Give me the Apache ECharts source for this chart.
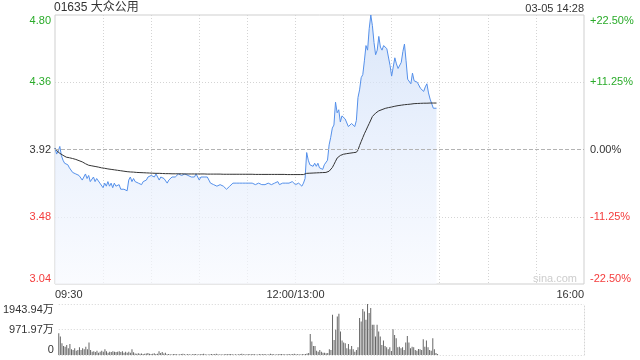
<!DOCTYPE html>
<html><head><meta charset="utf-8">
<script src="https://cdn.jsdelivr.net/npm/echarts@6/dist/echarts.min.js"></script>
<style>html,body{margin:0;padding:0;background:#fff}#c{width:640px;height:360px}</style>
</head><body><div id="c"></div>
<script>
// ---- data ----
const stockTitle = '01635 大众公用';
const stampText = '03-05 14:28';
const prevClose = 3.92;
const priceMin = 3.04, priceMax = 4.80, priceStep = 0.44;
const pctMin = -22.5, pctMax = 22.5, pctStep = 11.25;
const volMax = 1943.94; // 万
const sessionMinutes = 330;      // 09:30-12:00 + 13:00-16:00
const pmStart = 151;             // first afternoon minute index
const timeTickPos = [0, 150, 330];
const timeTickText = ['09:30', '12:00/13:00', '16:00'];

const priceAM = [
3.93,3.89,3.91,3.94,3.88,3.85,3.83,3.82,3.82,3.80,
3.80,3.77,3.78,3.76,3.77,3.75,3.76,3.72,3.74,3.76,
3.73,3.75,3.71,3.72,3.74,3.71,3.73,3.72,3.70,3.71,
3.67,3.70,3.68,3.71,3.68,3.70,3.67,3.70,3.68,3.67,
3.69,3.66,3.67,3.66,3.66,3.65,3.72,3.74,3.71,3.73,
3.71,3.72,3.70,3.71,3.69,3.71,3.70,3.72,3.74,3.73,
3.75,3.76,3.74,3.76,3.74,3.72,3.74,3.75,3.73,3.72,
3.70,3.72,3.73,3.74,3.74,3.74,3.75,3.76,3.75,3.75,
3.76,3.76,3.75,3.75,3.76,3.74,3.75,3.74,3.76,3.74,
3.72,3.74,3.74,3.74,3.74,3.74,3.72,3.70,3.70,3.69,
3.68,3.68,3.68,3.69,3.69,3.68,3.67,3.66,3.67,3.68,
3.68,3.70,3.70,3.70,3.70,3.70,3.70,3.70,3.70,3.70,
3.70,3.70,3.69,3.70,3.70,3.69,3.69,3.70,3.70,3.69,
3.69,3.69,3.70,3.70,3.70,3.69,3.70,3.70,3.69,3.71,
3.69,3.70,3.70,3.70,3.70,3.70,3.70,3.70,3.71,3.70,
3.69];
const pricePM = [
3.70,3.70,3.70,3.68,3.70,
3.73,3.90,3.85,3.82,
3.83,3.81,3.83,3.81,3.83,3.80,3.81,3.79,3.82,3.82,
3.85,3.95,4.00,4.06,4.08,4.23,4.16,4.18,4.10,4.14,
4.13,4.12,4.11,4.07,4.08,4.09,4.08,4.07,4.11,4.26,
4.31,4.39,4.41,4.50,4.60,4.57,4.71,4.80,4.73,4.62,
4.54,4.57,4.66,4.59,4.57,4.60,4.61,4.58,4.57,4.47,
4.40,4.46,4.52,4.48,4.45,4.45,4.49,4.56,4.61,4.50,
4.38,4.39,4.35,4.42,4.37,4.38,4.36,4.35,4.32,4.31,
4.30,4.33,4.35,4.29,4.25,4.22,4.19,4.19,4.19];

const avgAM = [
3.927,3.913,3.905,3.895,3.887,3.882,3.876,3.870,3.868,3.866,
3.864,3.861,3.858,3.855,3.851,3.847,3.843,3.839,3.835,3.827,
3.819,3.817,3.815,3.813,3.811,3.809,3.807,3.805,3.802,3.800,
3.798,3.797,3.795,3.793,3.792,3.790,3.789,3.787,3.786,3.784,
3.783,3.781,3.780,3.778,3.776,3.775,3.774,3.773,3.772,3.772,
3.771,3.770,3.770,3.769,3.769,3.768,3.768,3.767,3.767,3.766,
3.765,3.765,3.765,3.764,3.764,3.764,3.763,3.763,3.763,3.762,
3.762,3.762,3.762,3.761,3.761,3.761,3.761,3.761,3.761,3.761,
3.760,3.760,3.760,3.760,3.760,3.760,3.760,3.760,3.760,3.760,
3.760,3.760,3.760,3.760,3.760,3.759,3.759,3.759,3.759,3.759,
3.759,3.759,3.759,3.759,3.759,3.758,3.758,3.758,3.758,3.758,
3.758,3.758,3.758,3.758,3.758,3.758,3.758,3.758,3.758,3.758,
3.758,3.758,3.758,3.758,3.758,3.757,3.757,3.757,3.757,3.757,
3.757,3.757,3.757,3.757,3.757,3.757,3.757,3.757,3.757,3.757,
3.757,3.757,3.757,3.757,3.757,3.756,3.756,3.756,3.756,3.756,
3.756];
const avgPM = [
3.756,3.756,3.756,3.756,3.756,3.756,
3.764,
3.765,3.765,3.766,3.766,3.767,3.767,3.768,3.768,3.769,3.769,3.770,3.770,
3.771,
3.778,3.788,3.802,3.822,3.843,3.864,3.874,3.881,3.887,
3.889,3.891,3.893,3.895,3.896,3.898,3.899,3.900,3.902,
3.916,3.946,3.972,3.998,4.023,4.045,4.068,4.090,4.113,4.136,
4.147,4.158,4.169,
4.173,4.177,4.181,4.185,4.189,4.192,
4.194,4.196,4.198,4.200,4.203,4.205,
4.207,4.208,4.210,4.211,4.213,4.214,
4.215,4.216,4.217,4.218,4.220,4.221,
4.221,4.222,4.222,4.222,4.223,4.223,4.223,4.224,4.224,4.224,4.224,4.224,4.224];

const volAM = [
832,702,449,345,318,383,257,422,219,192,
257,165,192,295,192,257,219,318,219,472,
192,127,142,115,165,88,127,165,127,219,
142,88,127,115,142,127,115,127,142,115,
142,88,127,88,127,88,219,104,
58,46,69,50,58,38,46,58,77,50,38,46,69,38,50,
142,77,115,58,88,
27,38,31,23,35,42,27,19,31,38,
46,27,23,35,31,19,27,42,35,23,
31,27,38,50,27,19,23,31,38,27,
35,46,31,23,27,19,31,38,27,42,
35,27,23,31,19,27,38,46,31,27,
23,35,27,31,42,27,19,23,35,31,
27,38,27,23,31,46,35,27,19,31,
27,38,42,31,27,23,35,27,31,38,
46,31,27];
const volPM = [
27,19,38,27,38,58,77,
805,510,345,345,165,127,192,127,88,88,
65,77,219,192,
1534,575,959,1468,1572,893,548,472,449,257,
422,219,345,219,127,192,295,
1407,1277,1752,1660,1342,1943.94,1599,1790,1150,1150,
702,1150,893,702,383,548,345,295,219,295,
153,
985,767,640,295,318,257,295,192,472,728,
472,257,318,295,192,165,
230,219,192,602,318,548,295,192,165,640,219,77,38];

// ---- build ----
const toPairs = (am, pm) => am.map((v, i) => [i, v]).concat(pm.map((v, i) => [pmStart + i, v]));
const FONT = '"Liberation Sans", Arial, "Noto Sans CJK SC", sans-serif';
const UP = '#2aab2a', DOWN = '#f43c3c', FLAT = '#333';
const priceColor = v => v > prevClose + 1e-6 ? UP : (v < prevClose - 1e-6 ? DOWN : FLAT);
const pctColor = v => v > 1e-6 ? UP : (v < -1e-6 ? DOWN : FLAT);
const dotted = { color: '#d4d4d4', type: [1, 2], width: 1 };

const chart = echarts.init(document.getElementById('c'), null, { renderer: 'canvas' });
chart.setOption({
  animation: false,
  textStyle: { fontFamily: FONT },
  title: [
    { text: stockTitle, left: 54, top: 2, padding: 0,
      textStyle: { fontSize: 12, fontWeight: 'normal', color: '#333', fontFamily: FONT } },
    { text: stampText, right: 56, top: 3, padding: 0,
      textStyle: { fontSize: 11, fontWeight: 'normal', color: '#333', fontFamily: FONT } }
  ],
  graphic: [{ type: 'text', left: 533, top: 273, silent: true,
    style: { text: 'sina.com', fontSize: 11, fill: '#cdcdcd', fontFamily: FONT } }],
  grid: [
    { left: 55, top: 15, width: 529, height: 269, show: true, borderColor: '#cfcfcf', borderWidth: 1, containLabel: false },
    { left: 55, top: 304, width: 529, height: 51, containLabel: false }
  ],
  xAxis: [
    { type: 'value', gridIndex: 0, min: 0, max: sessionMinutes, interval: 30,
      axisLine: { show: false }, axisTick: { show: false },
      splitLine: { show: true, lineStyle: dotted, showMinLine: false, showMaxLine: false },
      axisLabel: { margin: 5, fontSize: 11, color: '#333', fontFamily: FONT,
        alignMinLabel: 'left', alignMaxLabel: 'right',
        formatter: v => { const k = timeTickPos.indexOf(v); return k >= 0 ? timeTickText[k] : ''; } } },
    { type: 'value', gridIndex: 1, min: 0, max: sessionMinutes, interval: 30,
      axisLine: { show: false }, axisTick: { show: false }, splitLine: { show: false },
      axisLabel: { show: false } }
  ],
  yAxis: [
    { type: 'value', gridIndex: 0, position: 'left', min: priceMin, max: priceMax, interval: priceStep,
      axisLine: { show: false }, axisTick: { show: false },
      splitLine: { show: true, lineStyle: dotted, showMinLine: false, showMaxLine: false },
      axisLabel: { margin: 4, fontSize: 11, fontFamily: FONT,
        verticalAlignMinLabel: 'bottom', verticalAlignMaxLabel: 'top',
        color: v => priceColor(+v), formatter: v => (+v).toFixed(2) } },
    { type: 'value', gridIndex: 0, position: 'right', min: pctMin, max: pctMax, interval: pctStep,
      axisLine: { show: false }, axisTick: { show: false }, splitLine: { show: false },
      axisLabel: { margin: 6, fontSize: 11, fontFamily: FONT,
        verticalAlignMinLabel: 'bottom', verticalAlignMaxLabel: 'top',
        color: v => pctColor(+v), formatter: v => (v > 0 ? '+' : '') + (+v).toFixed(2) + '%' } },
    { type: 'value', gridIndex: 1, position: 'left', min: 0, max: volMax, interval: volMax / 2,
      axisLine: { show: false }, axisTick: { show: false },
      splitLine: { show: true, lineStyle: dotted },
      axisLabel: { margin: 5, fontSize: 11, color: '#333', fontFamily: FONT,
        verticalAlignMinLabel: 'bottom', verticalAlignMaxLabel: 'top',
        formatter: v => v === 0 ? '0' : (+v).toFixed(2) + '万' } },
    { type: 'value', gridIndex: 1, position: 'right', min: 0, max: volMax,
      axisLine: { show: true, lineStyle: dotted }, axisTick: { show: false },
      splitLine: { show: false }, axisLabel: { show: false } }
  ],
  series: [
    { name: 'price', type: 'line', xAxisIndex: 0, yAxisIndex: 0, data: toPairs(priceAM, pricePM),
      showSymbol: false, symbol: 'none', lineStyle: { width: 1, color: '#5590ea' },
      areaStyle: { origin: 'start', color: new echarts.graphic.LinearGradient(0, 15, 0, 284, [
        { offset: 0, color: '#cbdcf6' }, { offset: 0.45, color: '#e0eafb' }, { offset: 1, color: '#f7f9fe' }], true) },
      markLine: { silent: true, symbol: 'none', label: { show: false },
        lineStyle: { color: '#b3b3b3', type: [4, 2], width: 1 },
        data: [{ yAxis: prevClose }] }, z: 3 },
    { name: 'avg', type: 'line', xAxisIndex: 0, yAxisIndex: 0, data: toPairs(avgAM, avgPM),
      showSymbol: false, symbol: 'none', lineStyle: { width: 1, color: '#333' }, z: 4 },
    { name: 'vol', type: 'bar', xAxisIndex: 1, yAxisIndex: 2, data: toPairs(volAM, volPM),
      barWidth: 1, itemStyle: { color: '#666' } }
  ]
});
</script>
</body></html>
